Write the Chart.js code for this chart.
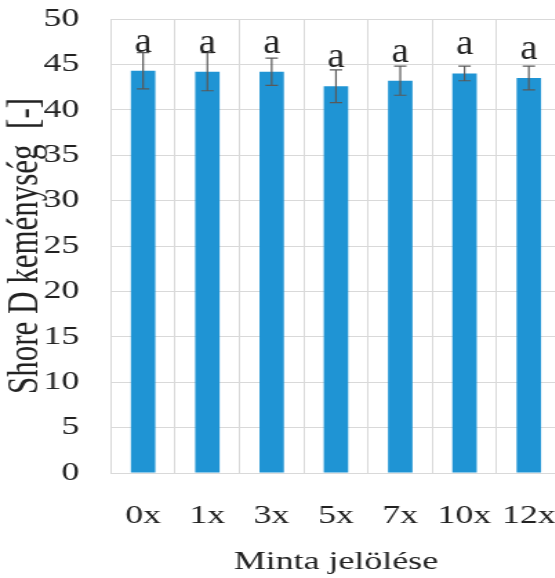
<!DOCTYPE html>
<html>
<head>
    <meta charset="utf-8">
    <title>Shore D keménység</title>
    <script src="https://cdn.jsdelivr.net/npm/chart.js"></script>
    <style>
        html, body {
            margin: 0;
            padding: 0;
            background: #fff;
            overflow: hidden;
            width: 555px;
            height: 578px;
        }
        /* the source figure is stretched sideways, so the canvas is too */
        #hardnessChart {
            transform: scaleX(1.38);
            transform-origin: 0 0;
        }
    </style>
</head>
<body>
    <canvas id="hardnessChart" width="420" height="578"></canvas>

<script>
// 数据
const categories = ['0x', '1x', '3x', '5x', '7x', '10x', '12x'];
const means = [44.3, 44.2, 44.2, 42.6, 43.2, 44.0, 43.5];
const errors = [2.0, 2.1, 1.5, 1.8, 1.6, 0.8, 1.3];
const groups = ['a', 'a', 'a', 'a', 'a', 'a', 'a'];
const yTicks = [0, 5, 10, 15, 20, 25, 30, 35, 40, 45, 50];

const serif = "'Liberation Serif', 'DejaVu Serif', serif";
const textColor = '#222';
const gridColor = '#d9d9d9';

// error bars + group letters
const errorBarPlugin = {
    id: 'errorBars',
    afterDatasetsDraw(chart) {
        const ctx = chart.ctx;
        const y = chart.scales.y;
        const meta = chart.getDatasetMeta(0);
        ctx.save();
        ctx.strokeStyle = '#595959';
        ctx.lineWidth = 1.2;
        meta.data.forEach((bar, i) => {
            const x = bar.x;
            const top = y.getPixelForValue(means[i] + errors[i]);
            const bot = y.getPixelForValue(means[i] - errors[i]);
            ctx.beginPath();
            ctx.moveTo(x, top);
            ctx.lineTo(x, bot);
            ctx.moveTo(x - 4.5, top);
            ctx.lineTo(x + 4.5, top);
            ctx.moveTo(x - 4.5, bot);
            ctx.lineTo(x + 4.5, bot);
            ctx.stroke();
        });
        ctx.fillStyle = textColor;
        ctx.font = '36px ' + serif;
        ctx.textAlign = 'center';
        ctx.textBaseline = 'alphabetic';
        meta.data.forEach((bar, i) => {
            ctx.save();
            ctx.translate(bar.x, y.getPixelForValue(means[i]) - 19);
            ctx.scale(0.78, 1);
            ctx.fillText(groups[i], 0, 0);
            ctx.restore();
        });
        ctx.restore();
    }
};

const config = {
    type: 'bar',
    data: {
        labels: categories,
        datasets: [{
            data: means,
            backgroundColor: '#1F94D4',
            borderWidth: 0,
            barPercentage: 0.38,
            categoryPercentage: 1.0
        }]
    },
    options: {
        responsive: false,
        animation: false,
        devicePixelRatio: 1,
        layout: { padding: { top: 19, right: 13.5, left: 0, bottom: 0 } },
        plugins: {
            legend: { display: false },
            tooltip: { enabled: false }
        },
        scales: {
            x: {
                grid: { color: gridColor, drawTicks: false, offset: true },
                border: { color: gridColor },
                ticks: {
                    color: textColor,
                    font: { family: serif, size: 26 },
                    padding: 28,
                    maxRotation: 0
                },
                title: {
                    display: true,
                    text: 'Minta jelölése',
                    color: textColor,
                    font: { family: serif, size: 26 },
                    padding: { top: 0, bottom: 0 }
                },
                afterFit(scale) {
                    scale.height = 105;
                    scale.paddingLeft = 0;
                    scale.paddingRight = 0;
                }
            },
            y: {
                min: 0,
                max: 50,
                afterBuildTicks(scale) {
                    scale.ticks = yTicks.map(v => ({ value: v }));
                },
                grid: { color: gridColor, drawTicks: false },
                border: { color: gridColor },
                ticks: {
                    color: textColor,
                    font: { family: serif, size: 26 },
                    padding: 23
                },
                title: {
                    display: true,
                    text: 'Shore D keménység  [-]',
                    color: textColor,
                    font: { family: serif, size: 31 },
                    padding: { top: 0, bottom: 0 }
                },
                afterFit(scale) {
                    scale.width = 80.4;
                    scale.paddingTop = 0;
                    scale.paddingBottom = 0;
                }
            }
        }
    },
    plugins: [errorBarPlugin]
};

new Chart(document.getElementById('hardnessChart'), config);
</script>
</body>
</html>
